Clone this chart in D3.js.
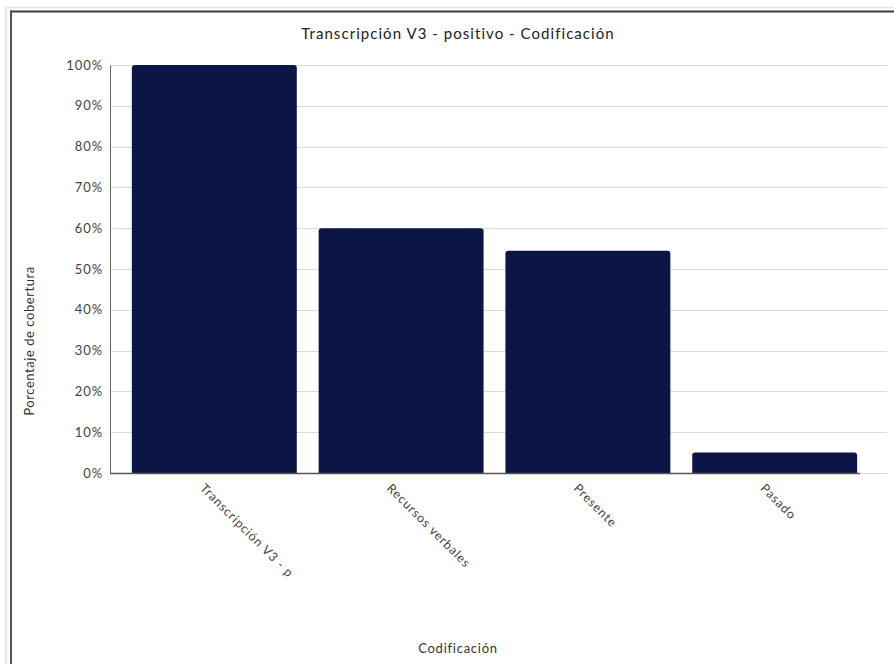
<!DOCTYPE html>
<html>
<head>
<meta charset="utf-8">
<script src="https://cdn.jsdelivr.net/npm/d3@7"></script>
<style>
  html, body { margin: 0; padding: 0; background: #fff; }
  svg { display: block; font-family: Lato, "Open Sans", sans-serif; }
</style>
</head>
<body>
<svg id="chart" width="894" height="664"></svg>
<script>
const categories = ["Transcripción V3 - p", "Recursos verbales", "Presente", "Pasado"];
const values = [100, 60, 54.5, 5];
const yTicks = [0, 10, 20, 30, 40, 50, 60, 70, 80, 90, 100];
const titleText = "Transcripción V3 - positivo - Codificación";
const xTitle = "Codificación";
const yTitle = "Porcentaje de cobertura";

const svg = d3.select("#chart");

// outer panel frames
svg.append("line").attr("x1", 5).attr("x2", 894).attr("y1", 7.5).attr("y2", 7.5)
  .attr("stroke", "#e6e6e6").attr("stroke-width", 1.5);
svg.append("line").attr("x1", 6).attr("x2", 6).attr("y1", 7).attr("y2", 664)
  .attr("stroke", "#e8e8e8").attr("stroke-width", 2.5);
svg.append("line").attr("x1", 10).attr("x2", 894).attr("y1", 11.5).attr("y2", 11.5)
  .attr("stroke", "#3a3a3a").attr("stroke-width", 2);
svg.append("line").attr("x1", 11).attr("x2", 11).attr("y1", 10.5).attr("y2", 664)
  .attr("stroke", "#555").attr("stroke-width", 2);

const pLeft = 110, pRight = 879, pTop = 65, pBottom = 473;

const x = d3.scaleBand().domain(categories).range([pLeft, pRight])
  .paddingInner(0.117).paddingOuter(0.117);
const y = d3.scaleLinear().domain([0, 100]).range([pBottom, pTop]);

// gridlines
svg.append("g").selectAll("line").data(yTicks).join("line")
  .attr("x1", pLeft).attr("x2", 887)
  .attr("y1", d => Math.round(y(d)) + 0.5).attr("y2", d => Math.round(y(d)) + 0.5)
  .attr("stroke", "#d9d9d9").attr("stroke-width", 1);

// y axis
const yAxis = svg.append("g").attr("transform", `translate(${pLeft},0)`)
  .call(d3.axisLeft(y).tickValues(yTicks).tickFormat(d => d + "%").tickSize(0).tickPadding(7));
yAxis.select(".domain").attr("stroke", "#666").attr("stroke-width", 1);
yAxis.selectAll("text").attr("font-size", 13).attr("fill", "#444")
  .attr("letter-spacing", 0.9)
  .attr("font-family", "Lato, sans-serif");

// bars with rounded top corners
function topRounded(x0, y0, w, h, r) {
  r = Math.min(r, h, w / 2);
  return `M${x0},${y0 + h}V${y0 + r}Q${x0},${y0} ${x0 + r},${y0}H${x0 + w - r}Q${x0 + w},${y0} ${x0 + w},${y0 + r}V${y0 + h}Z`;
}
svg.append("g").selectAll("path").data(categories).join("path")
  .attr("d", (c, i) => topRounded(x(c), y(values[i]), x.bandwidth(), pBottom - y(values[i]), 3))
  .attr("fill", "#0c1646");

// x axis line
svg.append("line").attr("x1", pLeft).attr("x2", 860).attr("y1", pBottom + 0.5).attr("y2", pBottom + 0.5)
  .attr("stroke", "#555").attr("stroke-width", 1.5);

// x axis
const xAxis = svg.append("g").attr("transform", `translate(0,${pBottom})`)
  .call(d3.axisBottom(x).tickSize(0));
xAxis.select(".domain").remove();
xAxis.selectAll("text")
  .attr("font-size", 12.5).attr("fill", "#444").attr("font-family", "Lato, sans-serif")
  .attr("letter-spacing", 0.85)
  .attr("text-anchor", "start")
  .attr("dy", 0).attr("y", 0)
  .attr("transform", "translate(-15,16) rotate(45)");

// titles
svg.append("text").attr("x", 458).attr("y", 39).attr("text-anchor", "middle")
  .attr("font-size", 15).attr("letter-spacing", 1.05).attr("fill", "#222").text(titleText);
svg.append("text").attr("x", 458).attr("y", 653).attr("text-anchor", "middle")
  .attr("font-size", 13).attr("letter-spacing", 0.75).attr("fill", "#333").text(xTitle);
svg.append("text").attr("transform", "translate(34,341) rotate(-90)").attr("text-anchor", "middle")
  .attr("font-size", 13).attr("letter-spacing", 0.55).attr("fill", "#333").text(yTitle);
</script>
</body>
</html>
